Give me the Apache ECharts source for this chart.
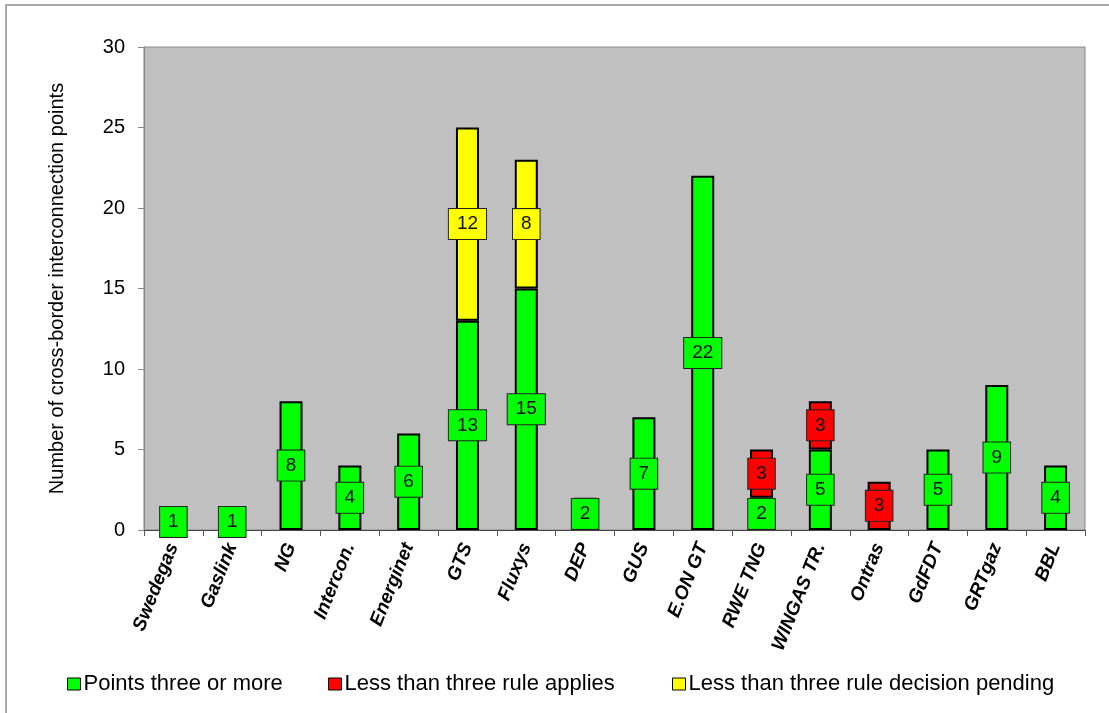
<!DOCTYPE html>
<html>
<head>
<meta charset="utf-8">
<script src="https://cdn.jsdelivr.net/npm/echarts@6/dist/echarts.min.js"></script>
<style>
html,body{margin:0;padding:0;background:#fff;}
#chart{width:1109px;height:713px;}
</style>
</head>
<body>
<div id="chart"></div>
<script>
const categories = ['Swedegas','Gaslink','NG','Intercon.','Energinet','GTS','Fluxys','DEP','GUS','E.ON GT','RWE TNG','WINGAS TR.','Ontras','GdFDT','GRTgaz','BBL'];
const pointsThreeOrMore = [1,1,8,4,6,13,15,2,7,22,2,5,null,5,9,4];
const lessThanThreeApplies = [null,null,null,null,null,null,null,null,null,null,3,3,3,null,null,null];
const lessThanThreePending = [null,null,null,null,null,12,8,null,null,null,null,null,null,null,null,null];
const yTicks = [0,5,10,15,20,25,30];

const seriesNames = ['Points three or more','Less than three rule applies','Less than three rule decision pending'];
const colors = ['#00ff00','#ff0000','#ffff00'];
const dataSets = [pointsThreeOrMore, lessThanThreeApplies, lessThanThreePending];
const legendLeft = [62, 323, 667];

const chart = echarts.init(document.getElementById('chart'));
const font = 'Arial, "Liberation Sans", sans-serif';

const series = dataSets.map((d, i) => ({
  name: seriesNames[i],
  type: 'bar',
  stack: 'total',
  data: d,
  barWidth: 23,
  itemStyle: { color: colors[i], borderColor: '#000', borderWidth: 2 },
  label: {
    show: true,
    position: 'inside',
    formatter: p => (p.value == null ? '' : String(p.value)),
    backgroundColor: colors[i],
    borderColor: '#222',
    borderWidth: 1,
    padding: [6, 8, 5, 8],
    fontFamily: font,
    fontSize: 19,
    color: '#111'
  },
  z: 2
}));

const legends = seriesNames.map((n, i) => ({
  data: [n],
  left: legendLeft[i], top: 668,
  itemWidth: 13, itemHeight: 12, itemGap: 0,
  icon: 'rect',
  textStyle: { fontFamily: font, fontSize: 22, color: '#000', padding: [0,0,0,-2] },
  itemStyle: { borderColor: '#000', borderWidth: 1 }
}));

chart.setOption({
  animation: false,
  backgroundColor: '#fff',
  graphic: [{
    type: 'rect',
    shape: { x: 6, y: 5, width: 1300, height: 900 },
    style: { fill: 'none', stroke: '#a8a8a8', lineWidth: 2 },
    silent: true
  }],
  grid: {
    left: 144, right: 24, top: 47, bottom: 183,
    show: true, backgroundColor: '#c0c0c0', borderColor: '#888', borderWidth: 1
  },
  legend: legends,
  xAxis: {
    type: 'category',
    data: categories,
    axisLine: { lineStyle: { color: '#444', width: 1 } },
    axisTick: { show: true, length: 6, lineStyle: { color: '#555' } },
    axisLabel: {
      rotate: 68, interval: 0, margin: 14,
      fontFamily: font, fontSize: 19, fontWeight: 'bold', fontStyle: 'italic', color: '#000'
    }
  },
  yAxis: {
    type: 'value',
    min: 0, max: 30, interval: 5,
    name: 'Number of cross-border interconnection points',
    nameLocation: 'middle', nameGap: 77, nameRotate: 90,
    nameTextStyle: { fontFamily: font, fontSize: 20, color: '#000' },
    axisLine: { show: true, lineStyle: { color: '#888' } },
    axisTick: { show: true, length: 6, lineStyle: { color: '#888' } },
    splitLine: { show: false },
    axisLabel: {
      margin: 19, fontFamily: font, fontSize: 20, color: '#000',
      formatter: v => (yTicks.indexOf(v) >= 0 ? String(v) : '')
    }
  },
  series: series
});
</script>
</body>
</html>
